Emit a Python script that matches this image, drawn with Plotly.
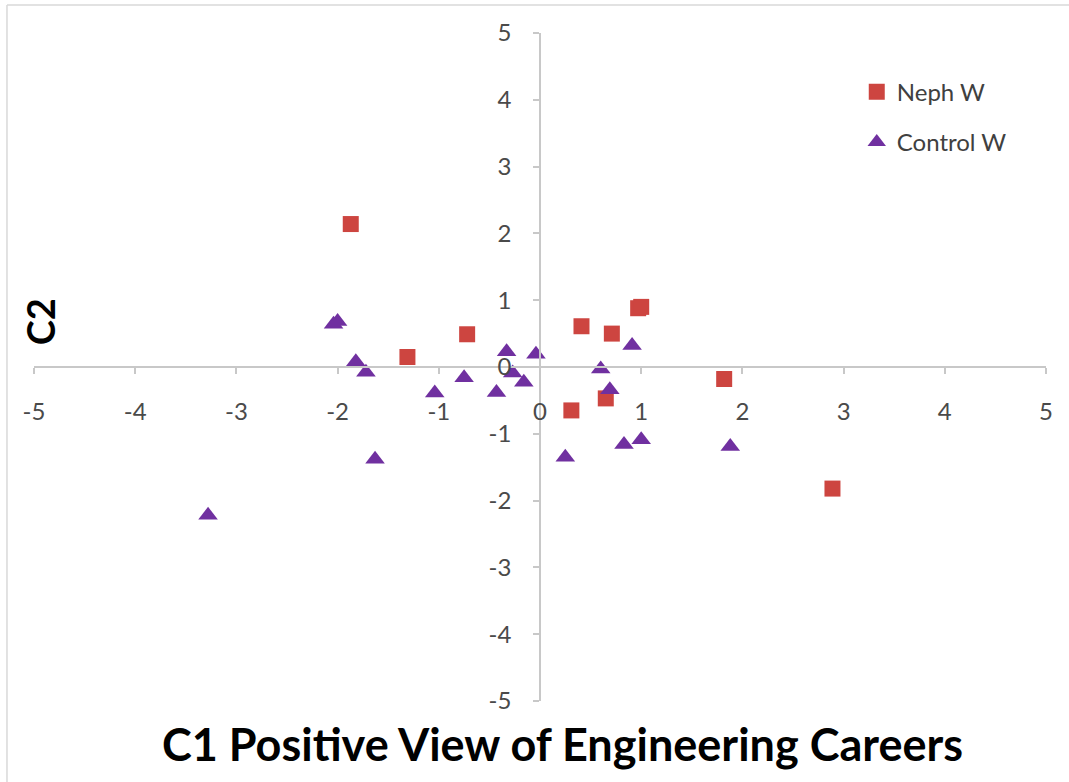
import plotly.graph_objects as go

# Data
neph_x = [-1.87, -1.31, -0.72, 0.31, 0.41, 0.71, 0.97, 1.00, 0.65, 1.82, 2.89]
neph_y = [2.14, 0.15, 0.49, -0.65, 0.61, 0.50, 0.88, 0.90, -0.47, -0.18, -1.82]

ctrl_x = [-3.28, -2.04, -2.00, -1.82, -1.72, -1.63, -1.04, -0.75, -0.43, -0.33,
          -0.27, -0.16, -0.04, 0.25, 0.60, 0.69, 0.83, 0.91, 1.00, 1.88]
ctrl_y = [-2.22, 0.64, 0.68, 0.08, -0.08, -1.38, -0.39, -0.16, -0.38, 0.23,
          -0.09, -0.23, 0.19, -1.35, -0.03, -0.34, -1.16, 0.32, -1.09, -1.19]

tick_vals = [-5, -4, -3, -2, -1, 0, 1, 2, 3, 4, 5]
tick_text = ["-5", "-4", "-3", "-2", "-1", "0", "1", "2", "3", "4", "5"]

FONT = "Lato"
fig = go.Figure()
fig.add_trace(go.Scatter(x=neph_x, y=neph_y, mode="markers", name="Neph W",
                         legendgroup="a",
                         marker=dict(symbol="square", size=16, color="#CD4540")))
fig.add_trace(go.Scatter(x=ctrl_x, y=ctrl_y, mode="markers", name="Control W",
                         legendgroup="b",
                         marker=dict(symbol="triangle-up", size=17, color="#7030A0")))

axis_common = dict(range=[-5, 5], tickvals=tick_vals, ticktext=tick_text,
                   showgrid=False, zeroline=False, showline=True,
                   linecolor="#C8C8C8", linewidth=1.5,
                   ticks="outside", ticklen=6, tickcolor="#C8C8C8", tickwidth=1.5,
                   tickfont=dict(family=FONT, size=24, color="#4A4A4A"),
                   anchor="free", position=0.5, fixedrange=True)

fig.update_layout(
    width=1069, height=782,
    margin=dict(l=34, r=23, t=33, b=81),
    paper_bgcolor="white", plot_bgcolor="white",
    xaxis=dict(**axis_common, ticklabelstandoff=17),
    yaxis=dict(**axis_common, ticklabelstandoff=17),
    legend=dict(x=0.813, y=0.945, xanchor="left", yanchor="top",
                font=dict(family=FONT, size=24, color="#404040"),
                traceorder="grouped", tracegroupgap=16,
                bgcolor="rgba(0,0,0,0)"),
    annotations=[
        dict(text="<b>C1 Positive View of Engineering Careers</b>",
             xref="paper", yref="paper", x=0.522, y=-0.064,
             xanchor="center", yanchor="middle", showarrow=False,
             font=dict(family=FONT, size=45, color="#000000")),
        dict(text="<b>C2</b>", xref="paper", yref="paper", x=0.006, y=0.567,
             xanchor="center", yanchor="middle", showarrow=False, textangle=-90,
             font=dict(family=FONT, size=38, color="#000000")),
    ],
    shapes=[
        dict(type="line", xref="paper", yref="paper", x0=-0.0267, x1=1.03,
             y0=1.042, y1=1.042, line=dict(color="#D9D9D9", width=1.5)),
        dict(type="line", xref="paper", yref="paper", x0=-0.0267, x1=-0.0267,
             y0=1.042, y1=-0.125, line=dict(color="#D9D9D9", width=1.5)),
    ],
)

fig.write_html("out.html", config={"displayModeBar": False},
               post_script="document.body.style.margin='0';document.body.style.overflow='hidden';")
